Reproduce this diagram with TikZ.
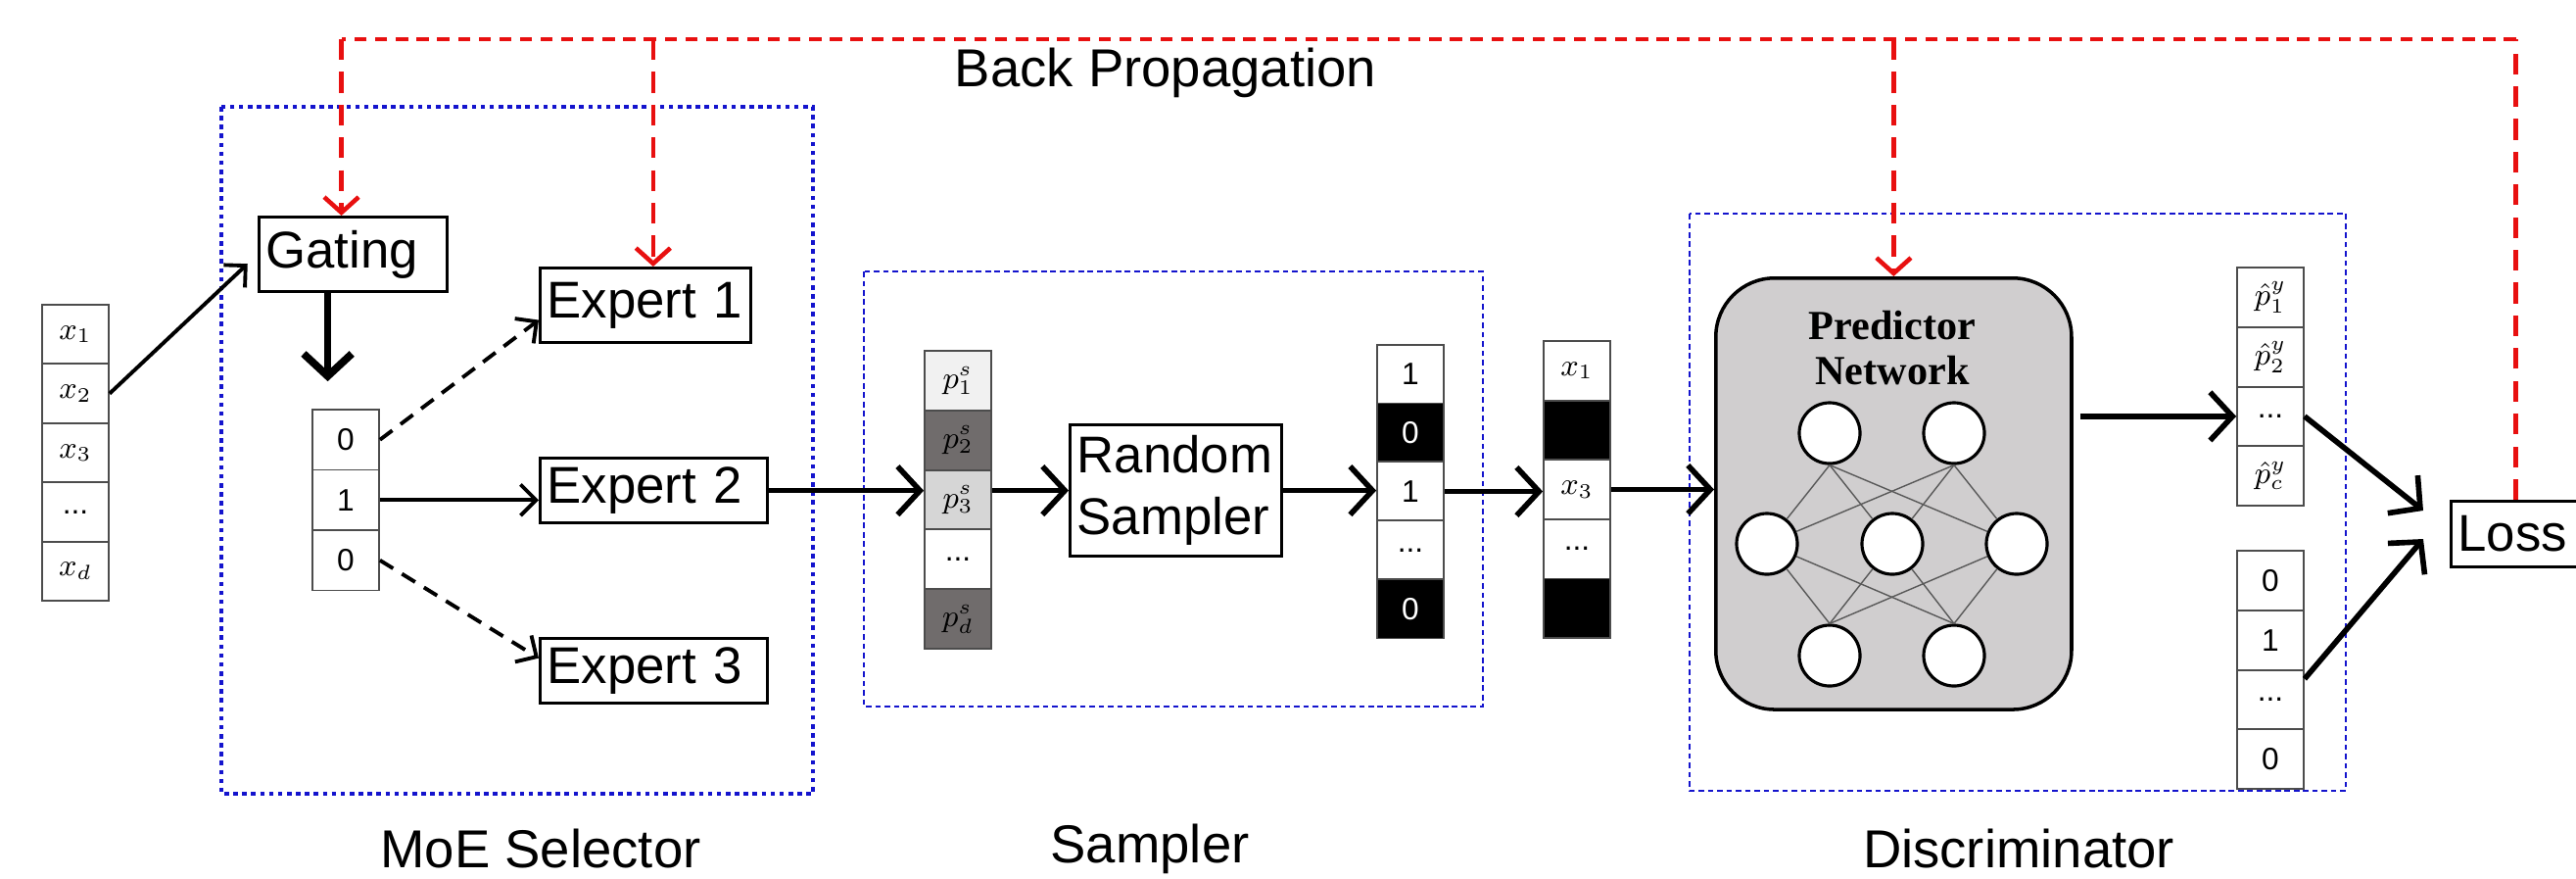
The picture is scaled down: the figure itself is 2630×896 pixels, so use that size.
\documentclass[tikz,border=0pt]{standalone}
\usepackage{fontspec}
\setmainfont{Liberation Sans}
\newfontfamily\netfont{Liberation Serif}
\usepackage{amsmath}
\usepackage{xcolor}
\usetikzlibrary{arrows.meta,positioning}

\definecolor{dotblue}{RGB}{20,20,205}
\definecolor{bpred}{RGB}{232,16,16}
\definecolor{pdark}{RGB}{112,108,108}
\definecolor{plight}{RGB}{241,241,241}
\definecolor{pmid}{RGB}{214,214,214}
\definecolor{netgray}{RGB}{208,206,207}
\newcommand{\celldots}{\text{...}}

\begin{document}
\begin{tikzpicture}[x=0.01cm,y=-0.01cm,
	cell/.style={draw=black!70,line width=0.5pt,minimum width=0.68cm,minimum height=0.605cm,inner sep=0pt,font=\fontsize{9}{10}\selectfont},
	mcell/.style={cell,font=\small},
	block/.style={draw,line width=0.9pt,inner xsep=2pt,inner ysep=0pt,align=left,anchor=north west,font=\fontsize{15}{18}\selectfont},
	group/.style={dotblue,line width=0.7pt,dash pattern=on 1.6pt off 1.1pt},
	thinflow/.style={line width=1.1pt,-{Straight Barb[length=4.5pt,width=9pt]}},
	flow/.style={line width=1.6pt,-{Straight Barb[length=6.5pt,width=14pt]}},
	backprop/.style={bpred,line width=1.3pt,dash pattern=on 6pt off 3.5pt},
	bparrow/.style={-{Straight Barb[length=4.5pt,width=10pt]}},
	neuron/.style={circle,draw,fill=white,line width=0.9pt,minimum size=0.62cm,inner sep=0pt},
	netedge/.style={black!65,line width=0.4pt},
	caption/.style={inner sep=0pt,font=\fontsize{15.5}{17}\selectfont}
	]
	\useasboundingbox (0,0) rectangle (2630,896);
	
	% group frames
	\draw[group,line width=1.3pt,dash pattern=on 1.3pt off 1.3pt] (226,109) rectangle (830,810);
	\draw[group] (882,277) rectangle (1514,721);
	\draw[group] (1725,218) rectangle (2395,807);
	
	% MoE selector
	\foreach \t [count=\i] in {x_1,x_2,x_3,\celldots,x_d}{
		\node[mcell] (in\i) at (77,{311+60.4*(\i-0.5)}) {$\t$};
	}
	\node[block,text width=50.6pt,minimum height=21.6pt] (gating) at (263,220) {Gating};
	\foreach \t [count=\i] in {0,1,0}{
		\node[cell,minimum height=0.615cm] (gv\i) at (353,{418+61.5*(\i-0.5)}) {\t};
	}
	\node[block,text width=57pt,minimum height=21.6pt] (expert1) at (550,272) {Expert 1};
	\node[block,text width=62pt,minimum height=18.8pt] (expert2) at (550,466) {Expert 2};
	\node[block,text width=62pt,minimum height=18.8pt] (expert3) at (550,650) {Expert 3};
	
	% sampler
	\foreach \t/\c [count=\i] in {p^s_1/plight,p^s_2/pdark,p^s_3/pmid,\celldots/white,p^s_d/pdark}{
		\node[mcell,fill=\c] (pv\i) at (978,{358+60.8*(\i-0.5)}) {$\t$};
	}
	\node[block,text width=57.5pt,minimum height=38.1pt] (sampler) at (1091,432) {Random\\Sampler};
	\foreach \t/\c/\f [count=\i] in {1/white/black,0/black/white,1/white/black,\celldots/white/black,0/black/white}{
		\node[cell,fill=\c,text=\f] (mv\i) at (1440,{352+59.8*(\i-0.5)}) {\t};
	}
	\foreach \t/\c [count=\i] in {x_1/white,/black,x_3/white,\celldots/white,/black}{
		\node[mcell,fill=\c] (xm\i) at (1610,{348+60.6*(\i-0.5)}) {$\t$};
	}
	
	% discriminator
	\node[draw,line width=1pt,fill=netgray,rounded corners=0.6cm,minimum width=3.63cm,minimum height=4.4cm,anchor=north west] (pred) at (1750,282) {};
	\node[font={\netfont\bfseries\fontsize{12}{13}\selectfont},align=center] (predtitle) at (1932,355) {Predictor\\Network};
	\foreach \p [count=\k] in {(1868,442),(1995,442),(1804,555),(1932,555),(2059,555),(1868,669),(1995,669)}{
		\node[neuron] (n\k) at \p {};
	}
	\foreach \a in {1,2}{
		\foreach \b in {3,4,5}{
			\draw[netedge] (n\a.south) -- (n\b);
		}
	}
	\foreach \a in {3,4,5}{
		\foreach \b in {6,7}{
			\draw[netedge] (n\a) -- (n\b.north);
		}
	}
	\foreach \t [count=\i] in {\hat{p}^y_1,\hat{p}^y_2,\celldots,\hat{p}^y_c}{
		\node[mcell] (ph\i) at (2318,{273+60.75*(\i-0.5)}) {$\t$};
	}
	\foreach \t [count=\i] in {0,1,\celldots,0}{
		\node[cell] (lb\i) at (2318,{562+60.75*(\i-0.5)}) {\t};
	}
	\node[block,anchor=west,text width=33.6pt,minimum height=19pt] (loss) at (2501,545) {Loss};
	
	% captions
	\node[caption] (bplabel) at (1190,74) {Back Propagation};
	\node[caption] (moelabel) at (552,866) {MoE Selector};
	\node[caption] (samplabel) at (1174,866) {Sampler};
	\node[caption] (disclabel) at (2061,866) {Discriminator};
	
	% forward connectors
	\draw[thinflow,shorten >=4pt] (in2.east) -- (gating.west);
	\draw[flow,line width=2.2pt] ([xshift=-0.26cm]gating.south) -- +(0,90);
	\draw[thinflow,dash pattern=on 4.5pt off 3pt] (gv1.east) -- ([yshift=-0.15cm]expert1.west);
	\draw[thinflow] (gv2.east) -- (gv2.east -| expert2.west);
	\draw[thinflow,dash pattern=on 4.5pt off 3pt] (gv3.east) -- ([yshift=0.13cm]expert3.west);
	\draw[flow] (expert2.east) -- (expert2.east -| pv3.west);
	\draw[flow] (sampler.west -| pv3.east) -- (sampler.west);
	\draw[flow] (sampler.east) -- (sampler.east -| mv3.west);
	\draw[flow] (mv3.east) -- (mv3.east -| xm3.west);
	\draw[flow] (xm3.east) -- (xm3.east -| pred.west);
	\draw[flow,shorten <=2pt] (ph3.west -| pred.east) -- (ph3.west);
	\draw[flow] (ph3.east) -- ([xshift=-0.27cm,yshift=0.24cm]loss.west);
	\draw[flow] ([yshift=-0.1cm]lb3.north east) -- ([xshift=-0.27cm,yshift=-0.05cm]loss.west);
	
	% back propagation
	\coordinate (bptop) at (0,40);
	\coordinate (gtap) at ([xshift=-0.12cm]gating.north);
	\coordinate (etap) at ([xshift=0.08cm]expert1.north);
	\draw[backprop] (loss.north) -- (loss.north |- bptop);
	\draw[backprop,dash pattern=on 3.5pt off 2.5pt] (loss.north |- bptop) -- (gtap |- bptop);
	\draw[backprop,bparrow] (gtap |- bptop) -- (gtap);
	\draw[backprop,bparrow] (etap |- bptop) -- (etap);
	\draw[backprop,bparrow] (pred.north |- bptop) -- (pred.north);
\end{tikzpicture}
\end{document}
